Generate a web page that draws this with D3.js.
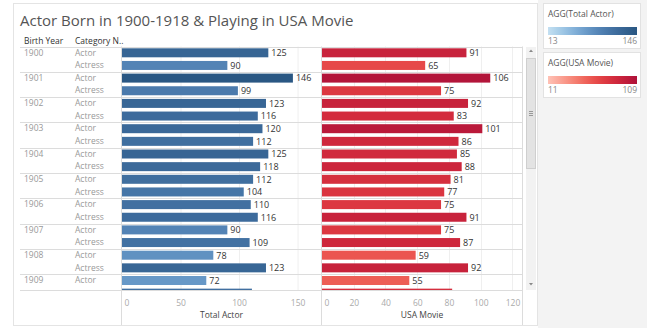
<!DOCTYPE html>
<html><head><meta charset="utf-8">
<script src="https://cdn.jsdelivr.net/npm/d3@7"></script>
<style>body{margin:0;background:#fff;}svg{display:block;font-family:"Open Sans",sans-serif;}</style>
</head><body><svg id="c" width="647" height="328"></svg>
<script>
const years = ["1900","1901","1902","1903","1904","1905","1906","1907","1908","1909"];
const categories = ["Actor","Actress"];
const totalActor = [125,90,146,99,123,116,120,112,125,118,112,104,110,116,90,109,78,123,72,111];
const usaMovie   = [91,65,106,75,92,83,101,86,85,88,81,77,75,91,75,87,59,92,55,82];
const totalTicks = [0,50,100,150];
const usaTicks = [0,20,40,60,80,100,120];
const legendTotal = [13,146];
const legendUsa = [11,109];

const svg = d3.select("#c");
// backgrounds
svg.append("rect").attr("x",538).attr("y",0).attr("width",109).attr("height",328).attr("fill","#f3f3f3");
svg.append("rect").attr("x",13.5).attr("y",3.5).attr("width",524).attr("height",322).attr("fill","#fff").attr("stroke","#e4e4e4");

svg.append("text").attr("x",20).attr("y",26).attr("font-size",15).attr("fill","#555")
  .text("Actor Born in 1900-1918 & Playing in USA Movie");

svg.append("text").attr("x",24).attr("y",44).attr("font-size",8.5).attr("fill","#333").text("Birth Year");
svg.append("text").attr("x",75).attr("y",44).attr("font-size",8.5).attr("fill","#333").text("Category N..");

const rows = [];
years.forEach(y=>categories.forEach(c=>rows.push({year:y,cat:c})));
rows.forEach((r,i)=>{r.total=totalActor[i]; r.usa=usaMovie[i];});

const top0 = 46.5, rowH = 12.65, barH = 9, bottom = 290.5;
const yS = d3.scaleLinear().domain([0,1]).range([top0, top0+rowH]);
const xL = d3.scaleLinear().domain([0,170]).range([122,321]);
const xR = d3.scaleLinear().domain([0,126]).range([322,522]);
const cTot = d3.scaleSequential(d3.interpolateRgbBasis(["#c4e0f2","#8bbadf","#5b8dc0","#3e6c9d","#2a5783"])).domain(legendTotal);
const cUsa = d3.scaleSequential(d3.interpolateRgbBasis(["#ffc2b6","#f88c7c","#ec5048","#d3273b","#ae123a"])).domain(legendUsa);

const defs = svg.append("defs");
defs.append("clipPath").attr("id","clip").append("rect")
  .attr("x",14).attr("y",top0).attr("width",510).attr("height",bottom-top0);
defs.append("clipPath").attr("id","clipT").append("rect")
  .attr("x",14).attr("y",top0).attr("width",510).attr("height",bottom-top0-3);

// gridlines
const grid = svg.append("g");
totalTicks.slice(1).forEach(t=>grid.append("line").attr("x1",xL(t)+0.5).attr("x2",xL(t)+0.5).attr("y1",top0).attr("y2",bottom).attr("stroke","#efefef"));
usaTicks.slice(1).forEach(t=>grid.append("line").attr("x1",Math.round(xR(t))+0.5).attr("x2",Math.round(xR(t))+0.5).attr("y1",top0).attr("y2",bottom).attr("stroke","#efefef"));

const g = svg.append("g").attr("clip-path","url(#clip)");
const gt = svg.append("g").attr("clip-path","url(#clipT)");
rows.forEach((r,i)=>{
  const y = yS(i);
  if (r.cat==="Actor") {
    gt.append("text").attr("x",24).attr("y",y+9).attr("font-size",8.5).attr("fill","#999").text(r.year);
  }
  gt.append("text").attr("x",75).attr("y",y+9).attr("font-size",8.5).attr("fill","#999").text(r.cat);
  g.append("rect").attr("x",xL(0)).attr("y",y+1.8).attr("width",xL(r.total)-xL(0)).attr("height",barH).attr("fill",cTot(r.total));
  gt.append("text").attr("x",xL(r.total)+3).attr("y",y+9.6).attr("font-size",9).attr("fill","#333").text(r.total);
  g.append("rect").attr("x",xR(0)).attr("y",y+1.8).attr("width",xR(r.usa)-xR(0)).attr("height",barH).attr("fill",cUsa(r.usa));
  gt.append("text").attr("x",xR(r.usa)+3).attr("y",y+9.6).attr("font-size",9).attr("fill","#333").text(r.usa);
});
// year separators
for (let k=0;k<=years.length;k++){
  const y = Math.round(yS(k*2))+0.5;
  if (y>bottom+1) break;
  svg.append("line").attr("x1",20).attr("x2",522).attr("y1",y).attr("y2",y).attr("stroke","#dcdcdc");
}
svg.append("line").attr("x1",20).attr("x2",522).attr("y1",bottom).attr("y2",bottom).attr("stroke","#dcdcdc");
// pane dividers
[121.5,321.5,522.5].forEach(x=>svg.append("line").attr("x1",x).attr("x2",x).attr("y1",top0).attr("y2",325).attr("stroke","#dcdcdc"));

// axes
const axL = svg.append("g").attr("transform",`translate(0,${bottom})`).call(d3.axisBottom(xL).tickValues(totalTicks).tickSize(0).tickPadding(9));
const axR = svg.append("g").attr("transform",`translate(0,${bottom})`).call(d3.axisBottom(xR).tickValues(usaTicks).tickSize(0).tickPadding(9));
[axL,axR].forEach(a=>{a.select(".domain").remove();
  a.selectAll("text").attr("font-size",8.5).attr("fill","#aaa").attr("font-family","'Open Sans',sans-serif");
  a.selectAll(".tick").filter(d=>d===0).select("text").attr("text-anchor","start").attr("dx",2);});
svg.append("text").attr("x",(xL.range()[0]+xL.range()[1])/2).attr("y",318).attr("text-anchor","middle").attr("font-size",8.5).attr("fill","#444").text("Total Actor");
svg.append("text").attr("x",(xR.range()[0]+xR.range()[1])/2).attr("y",318).attr("text-anchor","middle").attr("font-size",8.5).attr("fill","#444").text("USA Movie");

// scrollbar
svg.append("rect").attr("x",526).attr("y",47).attr("width",10).attr("height",243).attr("fill","#f2f2f2");
svg.append("rect").attr("x",526.5).attr("y",58.5).attr("width",9).attr("height",110).attr("fill","#e3e3e3").attr("stroke","#cfcfcf");
svg.append("path").attr("d","M529,52 L531,49.5 L533,52 Z").attr("fill","#888");
svg.append("path").attr("d","M529,283 L531,285.5 L533,283 Z").attr("fill","#888");
[111,113,115].forEach(y=>svg.append("line").attr("x1",529).attr("x2",533).attr("y1",y+0.5).attr("y2",y+0.5).attr("stroke","#999"));

// legends
function legend(y0, title, dom, scale, id){
  svg.append("rect").attr("x",543.5).attr("y",y0+0.5).attr("width",97).attr("height",45).attr("fill","#fff").attr("stroke","#e2e2e2");
  svg.append("text").attr("x",548).attr("y",y0+14).attr("font-size",8.5).attr("fill","#555").text(title);
  const lg = defs.append("linearGradient").attr("id",id);
  d3.range(0,1.001,0.1).forEach(t=>lg.append("stop").attr("offset",t).attr("stop-color",scale(dom[0]+t*(dom[1]-dom[0]))));
  svg.append("rect").attr("x",548).attr("y",y0+24).attr("width",89).attr("height",8).attr("fill",`url(#${id})`);
  svg.append("text").attr("x",548).attr("y",y0+41).attr("font-size",8.5).attr("fill","#888").text(dom[0]);
  svg.append("text").attr("x",637).attr("y",y0+41).attr("text-anchor","end").attr("font-size",8.5).attr("fill","#888").text(dom[1]);
}
legend(3,"AGG(Total Actor)",legendTotal,cTot,"gT");
legend(52,"AGG(USA Movie)",legendUsa,cUsa,"gU");
</script></body></html>
